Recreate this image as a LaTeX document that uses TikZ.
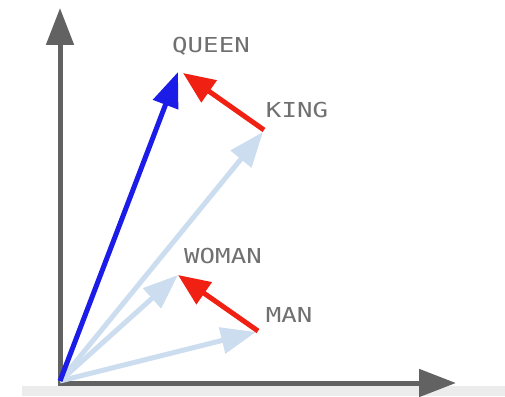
\documentclass[tikz,border=0pt]{standalone}
\usepackage{fontspec}
\usepackage{xcolor}
\usepackage{tikz}
\usetikzlibrary{arrows.meta,positioning}
\newfontfamily\wordfont[FakeStretch=1.25]{DejaVu Sans Mono}
\definecolor{axisgray}{RGB}{98,98,98}
\definecolor{wordgray}{RGB}{112,112,112}
\definecolor{queenblue}{RGB}{28,28,232}
\definecolor{diffred}{RGB}{240,32,18}
\definecolor{paleblue}{RGB}{204,221,240}
\definecolor{bandgray}{RGB}{236,236,236}

\begin{document}
\begin{tikzpicture}[
    x=1pt, y=-1pt,
    axis/.style={-{Triangle[length=37pt,width=27pt]}, line width=5pt, draw=axisgray},
    vec/.style={-{Triangle[length=35pt,width=26pt]}, line width=5pt},
    word/.style={font=\wordfont\fontsize{20.6}{24}\selectfont, text=wordgray, inner sep=0pt},
]
\useasboundingbox (0,0) rectangle (505,396);

% === SCREEN BAND ===
\fill[bandgray] (22,386) rectangle (505,396);

% === POINTS ===
\coordinate (origin) at (60,381);
\coordinate (queen) at (178,72);
\coordinate (queentip) at (183,73);
\coordinate (king) at (263,132);
\coordinate (woman) at (178,275);
\coordinate (man) at (256,332);
\coordinate (ytop) at (60,8);
\coordinate (xend) at (456,383);
\coordinate (corner) at (60,383);

% === AXES ===
\draw[axis] ([xshift=-2.5pt]corner) -- (xend);
\draw[axis] ([yshift=2.5pt]corner) -- (ytop);

% === WORD VECTORS ===
\draw[vec, draw=paleblue] (origin) -- (king);
\draw[vec, draw=paleblue] (origin) -- (woman);
\draw[vec, draw=paleblue] (origin) -- (man);
\draw[vec, draw=queenblue] (origin) -- (queen);

% === DIFFERENCES ===
\draw[vec, draw=diffred, -{Triangle[length=32pt,width=26pt]}] ([shift={(1,-2)}]king) -- (queentip);
\draw[vec, draw=diffred, -{Triangle[length=32pt,width=26pt]}] ([shift={(2,-1)}]man) -- (woman);

% === LABELS ===
\node[word] (queenlabel) at (211,46) {QUEEN};
\node[word] (kinglabel) at (297,110) {KING};
\node[word] (womanlabel) at (223,256) {WOMAN};
\node[word] (manlabel) at (289,315) {MAN};

\end{tikzpicture}
\end{document}
